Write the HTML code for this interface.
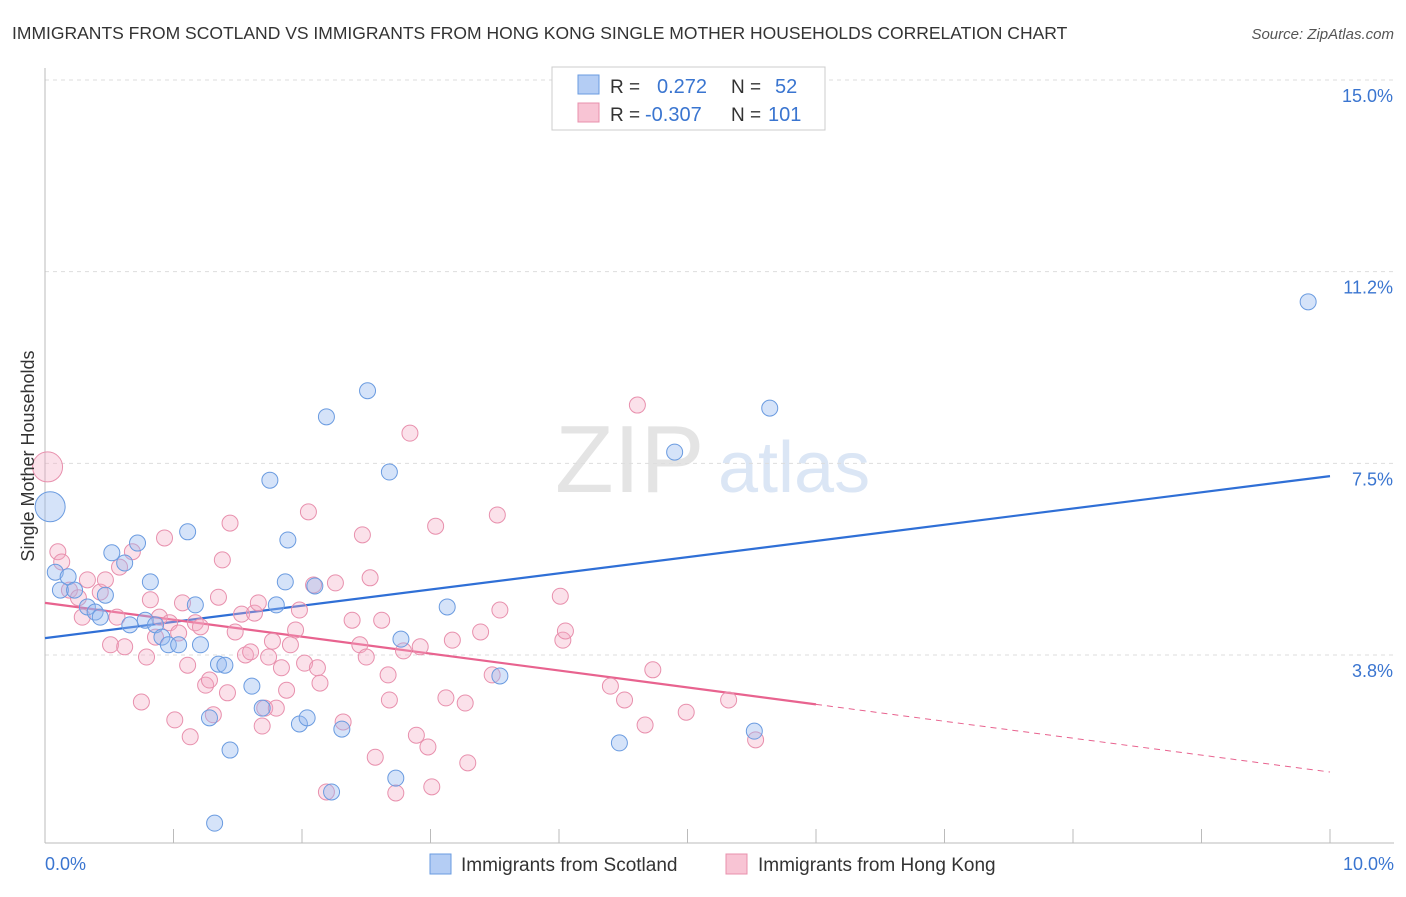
<!DOCTYPE html>
<html><head><meta charset="utf-8"><style>
body{margin:0;background:#fff;font-family:"Liberation Sans",sans-serif;}
svg text{font-family:"Liberation Sans",sans-serif;}
</style></head><body>
<svg id="chart" width="1406" height="892" viewBox="0 0 1406 892" xmlns="http://www.w3.org/2000/svg">
<text x="12" y="39" font-size="17.5" fill="#333">IMMIGRANTS FROM SCOTLAND VS IMMIGRANTS FROM HONG KONG SINGLE MOTHER HOUSEHOLDS CORRELATION CHART</text>
<text x="1394" y="39" font-size="15" fill="#555" text-anchor="end" font-style="italic">Source: ZipAtlas.com</text>
<g>
<text x="555" y="492" font-size="96" fill="#e4e4e4" font-family="Liberation Serif,serif">ZIP</text>
<text x="718" y="492" font-size="72" fill="#dbe6f5">atlas</text>
</g>
<g id="grid"></g>
<g id="axes"></g>
<g id="lines"></g>
<g id="pts"></g>
<text transform="translate(34,456) rotate(-90)" font-size="18" fill="#333" text-anchor="middle">Single Mother Households</text>
<g>
<rect x="552" y="67" width="273" height="63" fill="#fff" stroke="#ccc"/>
<rect x="578" y="75" width="21" height="19" fill="#b4cdf4" stroke="#6a9be0"/>
<rect x="578" y="103" width="21" height="19" fill="#f8c4d4" stroke="#e890ad"/>
<text x="610" y="93" font-size="19" fill="#333">R =</text>
<text x="657" y="93" font-size="20" fill="#3a75d0">0.272</text>
<text x="731" y="93" font-size="19" fill="#333">N =</text>
<text x="775" y="93" font-size="20" fill="#3a75d0">52</text>
<text x="610" y="121" font-size="19" fill="#333">R =</text>
<text x="645" y="121" font-size="20" fill="#3a75d0">-0.307</text>
<text x="731" y="121" font-size="19" fill="#333">N =</text>
<text x="768" y="121" font-size="20" fill="#3a75d0">101</text>
</g>
<g>
<rect x="430" y="854" width="21" height="20" fill="#b4cdf4" stroke="#6a9be0"/>
<text x="461" y="871" font-size="19" fill="#333">Immigrants from Scotland</text>
<rect x="726" y="854" width="21" height="20" fill="#f8c4d4" stroke="#e890ad"/>
<text x="758" y="871" font-size="19" fill="#333">Immigrants from Hong Kong</text>
</g>
</svg>
<script>
const yTicks=[15,11.25,7.5,3.75];
const yTickLabels=["15.0%","11.2%","7.5%","3.8%"];
const xTickLabels=["0.0%","10.0%"];
const scotX=[0.04,0.08,0.12,0.18,0.23,0.33,0.39,0.43,0.47,0.52,0.62,0.66,0.72,0.78,0.82,0.86,0.91,0.96,1.04,1.11,1.17,1.21,1.28,1.35,1.40,1.44,1.32,1.61,1.69,1.75,1.80,1.87,1.89,1.98,2.04,2.10,2.19,2.31,2.51,2.68,2.73,2.77,3.13,3.54,4.47,4.90,5.52,5.64,9.83,2.23];
const scotY=[6.65,5.37,5.02,5.28,5.02,4.69,4.59,4.49,4.92,5.75,5.55,4.34,5.94,4.43,5.18,4.34,4.10,3.95,3.95,6.16,4.73,3.95,2.52,3.57,3.55,1.89,0.46,3.14,2.71,7.17,4.73,5.18,6.00,2.40,2.52,5.10,8.41,2.30,8.92,7.33,1.34,4.06,4.69,3.34,2.03,7.72,2.26,8.58,10.66,1.07];
const hkX=[0.02,0.10,0.13,0.19,0.26,0.29,0.33,0.43,0.47,0.51,0.56,0.58,0.62,0.68,0.75,0.79,0.82,0.86,0.89,0.93,0.97,1.01,1.04,1.07,1.11,1.13,1.17,1.21,1.25,1.28,1.31,1.35,1.38,1.42,1.44,1.48,1.53,1.56,1.60,1.63,1.66,1.69,1.71,1.74,1.77,1.80,1.84,1.88,1.91,1.95,1.98,2.02,2.05,2.09,2.12,2.14,2.19,2.26,2.32,2.39,2.45,2.47,2.50,2.53,2.57,2.62,2.67,2.68,2.73,2.79,2.84,2.89,2.92,2.98,3.01,3.04,3.12,3.17,3.27,3.29,3.39,3.48,3.52,3.54,4.01,4.03,4.05,4.40,4.51,4.61,4.67,4.73,4.99,5.32,5.53];
const hkY=[7.43,5.77,5.57,5.02,4.87,4.49,5.22,4.98,5.22,3.95,4.49,5.47,3.91,5.77,2.83,3.71,4.83,4.10,4.49,6.04,4.38,2.48,4.18,4.77,3.55,2.15,4.38,4.30,3.16,3.26,2.58,4.88,5.61,3.01,6.33,4.20,4.55,3.75,3.81,4.57,4.77,2.36,2.71,3.71,4.02,2.71,3.50,3.06,3.95,4.24,4.63,3.59,6.55,5.12,3.50,3.20,1.07,5.16,2.44,4.43,3.95,6.10,3.71,5.26,1.75,4.43,3.36,2.87,1.05,3.83,8.09,2.18,3.91,1.95,1.17,6.27,2.91,4.04,2.81,1.64,4.20,3.36,6.49,4.63,4.90,4.04,4.22,3.14,2.87,8.64,2.38,3.46,2.63,2.87,2.09];
const scotBig=[0];
const hkBig=[0];
const scotTrend=[4.08,7.25];
const hkTrend=[4.77,1.46];
const hkSolidEnd=6.0;

const NS="http://www.w3.org/2000/svg";
const X=v=>45+v*128.5;
const Y=v=>80+(15-v)*51.11;
function mk(tag,attrs,parent){const e=document.createElementNS(NS,tag);for(const k in attrs)e.setAttribute(k,attrs[k]);document.getElementById(parent).appendChild(e);return e;}

yTicks.forEach((t,i)=>{
  const l=mk('line',{x1:45,x2:1394,y1:Y(t),y2:Y(t),stroke:'#ddd','stroke-dasharray':'4,4'},'grid');
  
  
  const tx=mk('text',{x:1393,y:Y(t)+22,'font-size':18,fill:'#3a75d0','text-anchor':'end'},'grid');
  tx.textContent=yTickLabels[i];
  
  
});
const ax=mk('line',{x1:45,x2:45,y1:68,y2:843,stroke:'#bbb'},'axes');


const bx=mk('line',{x1:45,x2:1394,y1:843,y2:843,stroke:'#bbb'},'axes');


for(let i=0;i<=10;i++){
  const t=mk('line',{x1:X(i),x2:X(i),y1:829,y2:843,stroke:'#bbb'},'axes');
  
  
}
[[0,'start',45],[10,'end',1394]].forEach((d,i)=>{
  const t=mk('text',{x:d[2],y:870,'font-size':18,fill:'#3a75d0','text-anchor':d[1]},'axes');
  t.textContent=xTickLabels[i];
  
  
});

const bl=mk('line',{x1:X(0),y1:Y(scotTrend[0]),x2:X(10),y2:Y(scotTrend[1]),stroke:'#2f6fd6','stroke-width':2.2},'lines');


const hkAt=x=>hkTrend[0]+(hkTrend[1]-hkTrend[0])*x/10;
const pl=mk('line',{x1:X(0),y1:Y(hkAt(0)),x2:X(hkSolidEnd),y2:Y(hkAt(hkSolidEnd)),stroke:'#e8638f','stroke-width':2.2},'lines');


const pd=mk('line',{x1:X(hkSolidEnd),y1:Y(hkAt(hkSolidEnd)),x2:X(10),y2:Y(hkAt(10)),stroke:'#e8638f','stroke-width':1,'stroke-dasharray':'6,5'},'lines');



hkX.forEach((x,i)=>{
  const c=mk('circle',{cx:X(x),cy:Y(hkY[i]),r:hkBig.includes(i)?15:8,fill:'rgba(244,170,196,0.35)',stroke:'#e890ad','stroke-width':1},'pts');
  
  
});
scotX.forEach((x,i)=>{
  const c=mk('circle',{cx:X(x),cy:Y(scotY[i]),r:scotBig.includes(i)?15:8,fill:'rgba(150,186,240,0.4)',stroke:'#6a9be0','stroke-width':1},'pts');
  
  
});
</script>
</body></html>
